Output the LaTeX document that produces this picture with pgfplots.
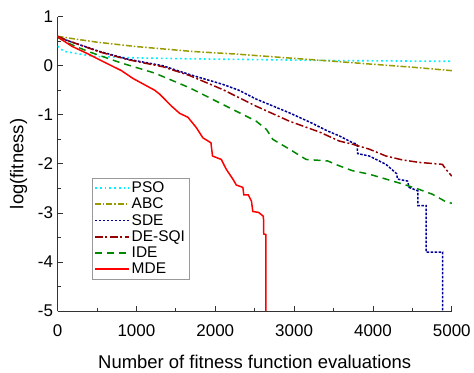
\documentclass[border=0pt]{standalone}
\usepackage{pgfplots}
\pgfplotsset{compat=1.18}
\usepackage{fontspec}
\setmainfont{Liberation Sans}
\definecolor{psoc}{RGB}{0,240,255}
\definecolor{abcc}{RGB}{153,153,0}
\definecolor{sdec}{RGB}{0,0,150}
\definecolor{desqic}{RGB}{150,0,0}
\definecolor{idec}{RGB}{0,136,0}
\definecolor{mdec}{RGB}{255,0,0}
\begin{document}
\begin{tikzpicture}
\begin{axis}[
  name=ax,
  scale only axis,
  width=395pt, height=295pt,
  xmin=0, xmax=5000, ymin=-5, ymax=1,
  axis lines*=left,
  axis line style={-, line width=0.8pt, black!80},
  tick align=inside,
  major tick length=5pt, minor tick length=3pt,
  tick style={line width=0.8pt, black!80},
  xtick={0,1000,2000,3000,4000,5000},
  ytick={-5,-4,-3,-2,-1,0,1},
  minor x tick num=1, minor y tick num=1,
  scaled ticks=false,
  /pgf/number format/1000 sep={},
  /pgf/number format/assume math mode=true,
  tick label style={font=\fontsize{17}{20}\selectfont},
  xticklabel style={yshift=-10pt},
  yticklabel style={xshift=-1pt},
  label style={font=\fontsize{18.5}{22}\selectfont},
  xlabel={Number of fitness function evaluations},
  xlabel style={yshift=-12pt},
  ylabel={log(fitness)},
  ylabel style={yshift=4pt},
  legend style={draw=gray!80, font=\fontsize{15.5}{18}\selectfont,
    at={(0.087,0.453)}, anchor=north west, inner sep=2pt, row sep=0pt,
    cells={anchor=west}},
  legend image code/.code={\draw[#1, line width=1.7pt] (0pt,0pt) -- (34pt,0pt);},
  legend cell align=left,
]
\addplot[psoc, line width=1.6pt, dash pattern=on 1.8pt off 3pt] coordinates {
(0,0.40)(50,0.33)(100,0.29)(200,0.26)(472,0.19)(662,0.18)(1000,0.16)(1716,0.14)(2270,0.13)(3000,0.115)(3500,0.105)(4500,0.095)(5000,0.09)};
\addlegendentry{PSO}
\addplot[abcc, line width=1.5pt, dash pattern=on 6pt off 2pt on 1.5pt off 2pt] coordinates {
(0,0.6)(200,0.55)(500,0.48)(1000,0.39)(1716,0.29)(2270,0.237)(3000,0.15)(3535,0.087)(3957,0.035)(4500,-0.03)(5000,-0.10)};
\addlegendentry{ABC}
\addplot[sdec, line width=1.5pt, dash pattern=on 2.5pt off 1.5pt] coordinates {
(0,0.58)(150,0.5)(535,0.29)(900,0.13)(1335,0.0)(1675,-0.18)(2096,-0.38)(2300,-0.5)(2519,-0.68)(2940,-0.96)(3200,-1.15)(3425,-1.33)(3573,-1.43)(3742,-1.57)(3800,-1.6)(3805,-1.79)(3953,-1.84)(4165,-2.01)(4300,-2.2)(4311,-2.31)(4438,-2.35)(4459,-2.48)(4570,-2.55)(4570,-2.85)(4675,-2.85)(4675,-3.8)(4885,-3.8)(4885,-5)};
\addlegendentry{SDE}
\addplot[desqic, line width=1.5pt, dash pattern=on 8pt off 2.5pt on 2pt off 2.5pt] coordinates {
(0,0.6)(150,0.5)(535,0.28)(900,0.12)(1335,-0.02)(1675,-0.2)(2096,-0.487)(2519,-0.825)(2940,-1.13)(3320,-1.35)(3573,-1.535)(3742,-1.6)(3953,-1.70)(4165,-1.84)(4375,-1.92)(4586,-1.97)(4881,-2.01)(4924,-2.11)(5000,-2.25)};
\addlegendentry{DE-SQI}
\addplot[idec, line width=1.5pt, dash pattern=on 7pt off 5pt] coordinates {
(0,0.58)(134,0.46)(387,0.29)(810,0.055)(1232,-0.15)(1675,-0.45)(2096,-0.79)(2519,-1.13)(2650,-1.3)(2729,-1.5)(2940,-1.70)(3152,-1.91)(3425,-1.94)(3573,-2.04)(3742,-2.14)(3953,-2.21)(4165,-2.31)(4375,-2.41)(4586,-2.52)(4755,-2.62)(4945,-2.79)(5000,-2.8)};
\addlegendentry{IDE}
\addplot[mdec, line width=1.5pt] coordinates {
(0,0.59)(177,0.40)(387,0.24)(620,0.05)(810,-0.1)(957,-0.26)(1232,-0.5)(1295,-0.58)(1443,-0.82)(1548,-0.97)(1653,-1.05)(1759,-1.26)(1843,-1.47)(1945,-1.57)(1965,-1.84)(2076,-1.91)(2139,-2.11)(2223,-2.31)(2266,-2.43)(2350,-2.48)(2362,-2.63)(2418,-2.63)(2459,-2.76)(2476,-2.97)(2550,-2.99)(2611,-3.07)(2615,-3.43)(2641,-3.44)(2641,-5)};
\addlegendentry{MDE}
\end{axis}
\path (ax.south west) ++(-57.7pt,-56pt);
\path (ax.north east) ++(21pt,16.7pt);
\end{tikzpicture}
\end{document}
